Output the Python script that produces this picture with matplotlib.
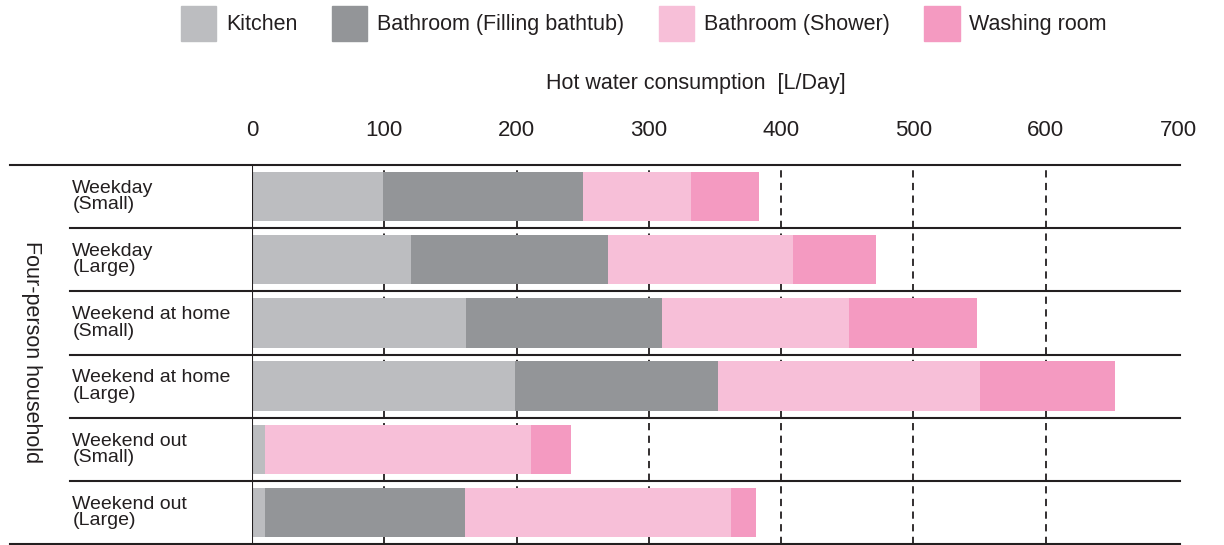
import matplotlib.pyplot as plt
import numpy as np
from matplotlib.patches import Patch

# data (L/Day)
rows = ['Weekday\n(Small)', 'Weekday\n(Large)', 'Weekend at home\n(Small)',
        'Weekend at home\n(Large)', 'Weekend out\n(Small)', 'Weekend out\n(Large)']
kitchen = [99, 120, 162, 199, 10, 10]
bathtub = [151, 149, 148, 153, 0, 151]
shower = [82, 140, 141, 198, 201, 201]
washing = [51, 63, 97, 102, 30, 19]
series_names = ['Kitchen', 'Bathroom (Filling bathtub)', 'Bathroom (Shower)', 'Washing room']
colors = ['#bcbdc0', '#939598', '#f7bfd8', '#f49ac1']

plt.rcParams['font.family'] = ['Liberation Sans', 'DejaVu Sans']

fig = plt.figure(figsize=(12.24, 5.45), dpi=100)
ax = fig.add_axes([252 / 1224, 1 / 545, 926 / 1224, 379 / 545])

y = np.arange(len(rows))
left = np.zeros(len(rows))
for vals, name, c in zip([kitchen, bathtub, shower, washing], series_names, colors):
    ax.barh(y, vals, left=left, height=0.78, color=c, label=name, zorder=2)
    left += np.array(vals)

ax.set_xlim(0, 700)
ax.set_ylim(len(rows) - 0.5, -0.5)
ax.set_xticks(range(0, 701, 100))
ax.xaxis.tick_top()
ax.tick_params(axis='x', length=0, labelsize=16, pad=17, colors='#231f20')
ax.text(0.479, 1 + 82 / 379, 'Hot water consumption  [L/Day]', transform=ax.transAxes,
        ha='center', va='center', fontsize=15.5, color='#231f20')
ax.set_yticks([])
for s in ax.spines.values():
    s.set_visible(False)

# dashed grid
for xv in range(100, 700, 100):
    ax.axvline(xv, color='#231f20', lw=1.3, ls=(0, (4, 3)), zorder=1)
ax.axvline(0, color='#231f20', lw=1.5, zorder=3)

# horizontal separators
ax.axhline(-0.5, xmin=-0.261, xmax=1.002, color='#231f20', lw=1.5, clip_on=False)
ax.axhline(len(rows) - 0.5, xmin=-0.261, xmax=1.002, color='#231f20', lw=1.5, clip_on=False)
for k in range(1, len(rows)):
    ax.axhline(k - 0.5, xmin=-0.197, xmax=1.002, color='#231f20', lw=1.5, clip_on=False)

# row labels
for yi, lab in zip(y, rows):
    ax.text(-0.194, yi, lab, transform=ax.get_yaxis_transform(), ha='left', va='center',
            fontsize=14, linespacing=0.95, color='#231f20')

fig.text(31 / 1224, 1 - 352 / 545, 'Four-person household', rotation=270, ha='center',
         va='center', fontsize=15.5, color='#231f20')

handles = [Patch(color=c) for c in colors]
fig.legend(handles, series_names, loc='upper center', bbox_to_anchor=(0.526, 1.025), ncol=4,
           frameon=False, fontsize=15.5, handlelength=1.65, handleheight=2.15,
           columnspacing=1.6, handletextpad=0.45, labelcolor='#231f20')

fig.savefig('out.png', dpi=100)
